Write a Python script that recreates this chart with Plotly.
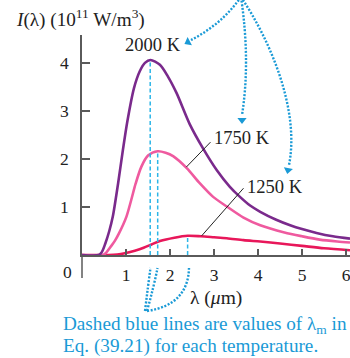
import plotly.graph_objects as go

# ---------------- data ----------------
lam_2000 = [0.0, 0.38, 0.45, 0.53, 0.62, 0.70, 0.82, 0.93, 1.03, 1.18, 1.31, 1.43, 1.555,
            1.77, 1.95, 2.15, 2.45, 2.75, 3.06, 3.36, 3.59, 3.82, 4.05, 4.40, 4.73,
            5.00, 5.33, 5.70, 6.09]
I_2000 = [0.0, 0.0, 0.06, 0.24, 0.50, 0.80, 1.49, 2.19, 2.78, 3.47, 3.82, 4.00, 4.06,
          3.96, 3.72, 3.37, 2.72, 2.22, 1.77, 1.42, 1.21, 1.03, 0.90, 0.74, 0.62,
          0.54, 0.46, 0.39, 0.34]

lam_1750 = [0.0, 0.48, 0.55, 0.65, 0.75, 0.84, 1.01, 1.12, 1.22, 1.35, 1.50, 1.72,
            1.90, 2.07, 2.38, 2.68, 2.98, 3.29, 3.67, 4.05, 4.60, 5.00, 5.40, 5.80, 6.09]
I_1750 = [0.0, 0.0, 0.05, 0.17, 0.30, 0.45, 0.80, 1.15, 1.49, 1.84, 2.07, 2.16,
          2.13, 2.06, 1.81, 1.49, 1.21, 1.01, 0.78, 0.62, 0.47, 0.39, 0.32, 0.28, 0.26]

lam_1250 = [0.0, 0.60, 0.80, 0.97, 1.20, 1.40, 1.58, 1.77, 2.10, 2.40, 2.70, 3.00,
            3.29, 3.67, 4.05, 4.50, 5.00, 5.50, 6.09]
I_1250 = [0.0, 0.0, 0.01, 0.035, 0.09, 0.15, 0.22, 0.29, 0.36, 0.40, 0.39, 0.37,
          0.35, 0.31, 0.28, 0.24, 0.19, 0.14, 0.10]

temps = ["2000 K", "1750 K", "1250 K"]
lam_m = [1.55, 1.72, 2.40]          # dashed blue lines
I_m = [4.06, 2.16, 0.40]

x_ticks = [1, 2, 3, 4, 5, 6]
y_ticks = [1, 2, 3, 4]

# ---------------- geometry ----------------
W, H = 350, 358
ML, MT, PW, PH = 82, 35, 268, 220
XMAX, YMAX = 6.09, 4.58

def paper(X, Y):
    return ((X - ML) / PW, (MT + PH - Y) / PH)

def data(X, Y):
    return ((X - ML) / PW * XMAX, (MT + PH - Y) / PH * YMAX)

SERIF = "Liberation Serif"
PURPLE = "#7a2a8c"
PINK = "#ef5a9f"
RED = "#e8175a"
CYAN = "#2cb6e8"
BLUE = "#1a9ad6"
AXIS = "#5a5a5a"
TXT = "#222222"

fig = go.Figure()

for lam, I, col in [(lam_1250, I_1250, RED), (lam_1750, I_1750, PINK), (lam_2000, I_2000, PURPLE)]:
    fig.add_trace(go.Scatter(x=lam, y=I, mode="lines",
                             line=dict(color=col, width=2.6, shape="spline", smoothing=0.8),
                             hoverinfo="skip", showlegend=False))

# dashed blue lines at lambda_m
for lm, im in zip(lam_m, I_m):
    fig.add_trace(go.Scatter(x=[lm, lm], y=[0, im], mode="lines",
                             line=dict(color=CYAN, width=1.5, dash="4px,2.5px"),
                             hoverinfo="skip", showlegend=False))

# leader lines for temperature labels
leaders = [([2.37, 2.92], [1.83, 2.35]), ([2.72, 3.67], [0.40, 1.39])]
for lx, ly in leaders:
    fig.add_trace(go.Scatter(x=lx, y=ly, mode="lines", line=dict(color=TXT, width=1),
                             hoverinfo="skip", showlegend=False))

# dotted blue arrow paths (pixel control points -> paper coords)
def qpath(p0, c, p1):
    a = paper(*p0); b = paper(*c); d = paper(*p1)
    return f"M {a[0]},{a[1]} Q {b[0]},{b[1]} {d[0]},{d[1]}"

def cpath(p0, c1, c2, p1):
    a = paper(*p0); b = paper(*c1); e = paper(*c2); d = paper(*p1)
    return f"M {a[0]},{a[1]} C {b[0]},{b[1]} {e[0]},{e[1]} {d[0]},{d[1]}"

paths = [
    qpath((241, -3), (221.5, 24.5), (191, 40)),
    qpath((241, -3), (250.5, 61.5), (242, 115)),
    cpath((241, -3), (270, 40), (300, 110), (289, 165)),
    qpath((145, 311), (148, 286), (150.5, 268)),
    qpath((147, 311), (154, 286), (157.5, 268)),
    qpath((147, 311), (188, 305), (189, 268)),
]
for p in paths:
    fig.add_shape(type="path", path=p, xref="paper", yref="paper",
                  line=dict(color=BLUE, width=2.4, dash="2px,1.6px"))

# arrowheads
heads_px = [(188, 42, 242), (242, 120, 180), (288, 170, 191),
            (150.5, 264, 0), (157.5, 264, 0), (189, 264, 0)]
hx, hy, ha = [], [], []
for X, Y, a in heads_px:
    d = data(X, Y)
    hx.append(d[0]); hy.append(d[1]); ha.append(a)
fig.add_trace(go.Scatter(x=hx, y=hy, mode="markers", cliponaxis=False,
                         marker=dict(symbol="triangle-up", size=8, angle=ha, color=BLUE,
                                     line=dict(width=0)),
                         hoverinfo="skip", showlegend=False))

# y-axis extension below the x axis
fig.add_shape(type="line", xref="paper", yref="paper",
              x0=0, x1=0, y0=paper(ML, 278)[1], y1=0, line=dict(color=AXIS, width=1.5))

# temperature labels
lab_pos = [(1.61, 4.375, "center"), (2.95, 2.43, "left"), (3.70, 1.42, "left")]
for (x, y, anc), t in zip(lab_pos, temps):
    fig.add_annotation(x=x, y=y, text=t, showarrow=False, xanchor=anc, yanchor="middle",
                       font=dict(family=SERIF, size=18.5, color=TXT))

# axis titles and other texts
px, py = paper(14, 19)
fig.add_annotation(x=px, y=py, xref="paper", yref="paper", showarrow=False,
                   xanchor="left", yanchor="middle",
                   text="<i>I</i>(λ) (10<sup>11</sup> W/m<sup>3</sup>)",
                   font=dict(family=SERIF, size=19.2, color=TXT))
px, py = paper(67.5, 272)
fig.add_annotation(x=px, y=py, xref="paper", yref="paper", showarrow=False,
                   xanchor="center", yanchor="middle", text="0",
                   font=dict(family=SERIF, size=17.5, color=TXT))
px, py = paper(216, 298)
fig.add_annotation(x=px, y=py, xref="paper", yref="paper", showarrow=False,
                   xanchor="center", yanchor="middle", text="λ (<i>μ</i>m)",
                   font=dict(family=SERIF, size=19.5, color=TXT))
px, py = paper(61, 325)
fig.add_annotation(x=px, y=py, xref="paper", yref="paper", showarrow=False,
                   xanchor="left", yanchor="middle",
                   text="Dashed blue lines are values of λ<sub>m</sub> in",
                   font=dict(family=SERIF, size=19.2, color=BLUE))
px, py = paper(61, 346)
fig.add_annotation(x=px, y=py, xref="paper", yref="paper", showarrow=False,
                   xanchor="left", yanchor="middle",
                   text="Eq. (39.21) for each temperature.",
                   font=dict(family=SERIF, size=19.2, color=BLUE))

fig.update_layout(
    width=W, height=H, margin=dict(l=ML, r=W - ML - PW, t=MT, b=H - MT - PH),
    plot_bgcolor="white", paper_bgcolor="white",
    xaxis=dict(range=[0, XMAX], tickvals=x_ticks, ticktext=[str(v) for v in x_ticks],
               ticks="inside", ticklen=6, tickwidth=1.5, tickcolor=AXIS,
               showline=True, linecolor=AXIS, linewidth=1.5, showgrid=False, zeroline=False,
               tickfont=dict(family=SERIF, size=17.5, color=TXT), ticklabelstandoff=3,
               ticklabeloverflow="allow"),
    yaxis=dict(range=[0, YMAX], tickvals=y_ticks, ticktext=[str(v) for v in y_ticks],
               ticks="inside", ticklen=8, tickwidth=1.5, tickcolor=AXIS,
               showline=True, linecolor=AXIS, linewidth=1.5, showgrid=False, zeroline=False,
               tickfont=dict(family=SERIF, size=17.5, color=TXT), ticklabelstandoff=8),
    showlegend=False,
)

fig.write_html("out.html", config={"displayModeBar": False},
               post_script="document.body.style.margin='0';document.body.style.overflow='hidden';")
